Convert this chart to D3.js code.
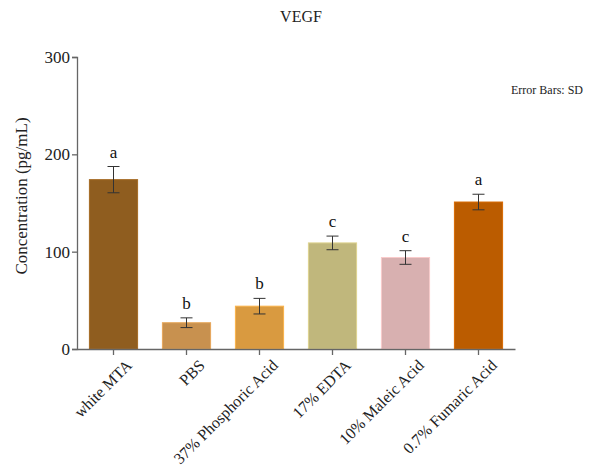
<!DOCTYPE html>
<html>
<head>
<meta charset="utf-8">
<script src="https://cdn.jsdelivr.net/npm/d3@7"></script>
<style>
  body { margin: 0; background: #fff; }
  text { font-family: "Liberation Serif", "Times New Roman", serif; }
</style>
</head>
<body>
<div id="chart"></div>
<script>
const groups = ["white MTA", "PBS", "37% Phosphoric Acid", "17% EDTA", "10% Maleic Acid", "0.7% Fumaric Acid"];
const means = [174, 27, 44, 109, 94, 151];
const sds = [13.5, 5, 8, 7, 7, 8];
const letters = ["a", "b", "b", "c", "c", "a"];
const colors = ["#8f5d1f", "#c8914f", "#d99a40", "#c0b77c", "#d8b0b0", "#bb5c00"];
const yTicks = [0, 100, 200, 300];

const W = 594, H = 468;
const margin = { top: 57, right: 79, bottom: 119, left: 77 };
const width = W - margin.left - margin.right;
const height = H - margin.top - margin.bottom;

const svg = d3.select("#chart").append("svg")
    .attr("width", W)
    .attr("height", H);

const g = svg.append("g")
    .attr("transform", `translate(${margin.left},${margin.top})`);

const x = d3.scaleBand()
    .domain(groups)
    .range([0, width])
    .paddingInner(0.34)
    .paddingOuter(0.17);

const y = d3.scaleLinear()
    .domain([0, 300])
    .range([height, 0]);

// bars
g.selectAll(".bar")
    .data(groups)
    .enter()
    .append("rect")
    .attr("class", "bar")
    .attr("x", d => x(d))
    .attr("y", (d, i) => y(means[i]))
    .attr("width", x.bandwidth())
    .attr("height", (d, i) => height - y(means[i]))
    .attr("fill", (d, i) => colors[i])
    .attr("stroke", (d, i) => d3.color(colors[i]).brighter(0.4))
    .attr("stroke-width", 1);

// error bars
const cap = 6;
groups.forEach((d, i) => {
    const cx = x(d) + x.bandwidth() / 2;
    const eg = g.append("g")
        .attr("stroke", "#333")
        .attr("stroke-width", 1);
    eg.append("line")
        .attr("x1", cx).attr("x2", cx)
        .attr("y1", y(means[i] + sds[i])).attr("y2", y(means[i] - sds[i]));
    eg.append("line")
        .attr("x1", cx - cap).attr("x2", cx + cap)
        .attr("y1", y(means[i] + sds[i])).attr("y2", y(means[i] + sds[i]));
    eg.append("line")
        .attr("x1", cx - cap).attr("x2", cx + cap)
        .attr("y1", y(means[i] - sds[i])).attr("y2", y(means[i] - sds[i]));
});

// significance letters
g.selectAll(".sig")
    .data(groups)
    .enter()
    .append("text")
    .attr("class", "sig")
    .attr("x", d => x(d) + x.bandwidth() / 2)
    .attr("y", (d, i) => y(means[i] + sds[i]) - 9)
    .attr("text-anchor", "middle")
    .style("font-size", "17px")
    .style("fill", "#111")
    .text((d, i) => letters[i]);

// axes
const yAxis = g.append("g")
    .call(d3.axisLeft(y).tickValues(yTicks).tickSize(5).tickPadding(2));
yAxis.selectAll("text")
    .style("font-size", "17px")
    .style("fill", "#222");

const xAxis = g.append("g")
    .attr("transform", `translate(0,${height})`)
    .call(d3.axisBottom(x).tickSize(6).tickSizeOuter(0));
xAxis.selectAll("text")
    .style("font-size", "16px")
    .style("fill", "#222")
    .attr("text-anchor", "end")
    .attr("transform", "translate(5,3) rotate(-45)");

g.selectAll(".domain, .tick line")
    .attr("stroke", "#666")
    .attr("stroke-width", 1.3);

// title
svg.append("text")
    .attr("x", 301)
    .attr("y", 22)
    .attr("text-anchor", "middle")
    .style("font-size", "16px")
    .style("fill", "#222")
    .text("VEGF");

// y label
svg.append("text")
    .attr("transform", `translate(27,${margin.top + height / 2 - 7}) rotate(-90)`)
    .attr("text-anchor", "middle")
    .style("font-size", "17px")
    .style("fill", "#222")
    .text("Concentration (pg/mL)");

// error bar note
svg.append("text")
    .attr("x", 511)
    .attr("y", 94)
    .style("font-size", "12px")
    .style("fill", "#222")
    .text("Error Bars: SD");
</script>
</body>
</html>
